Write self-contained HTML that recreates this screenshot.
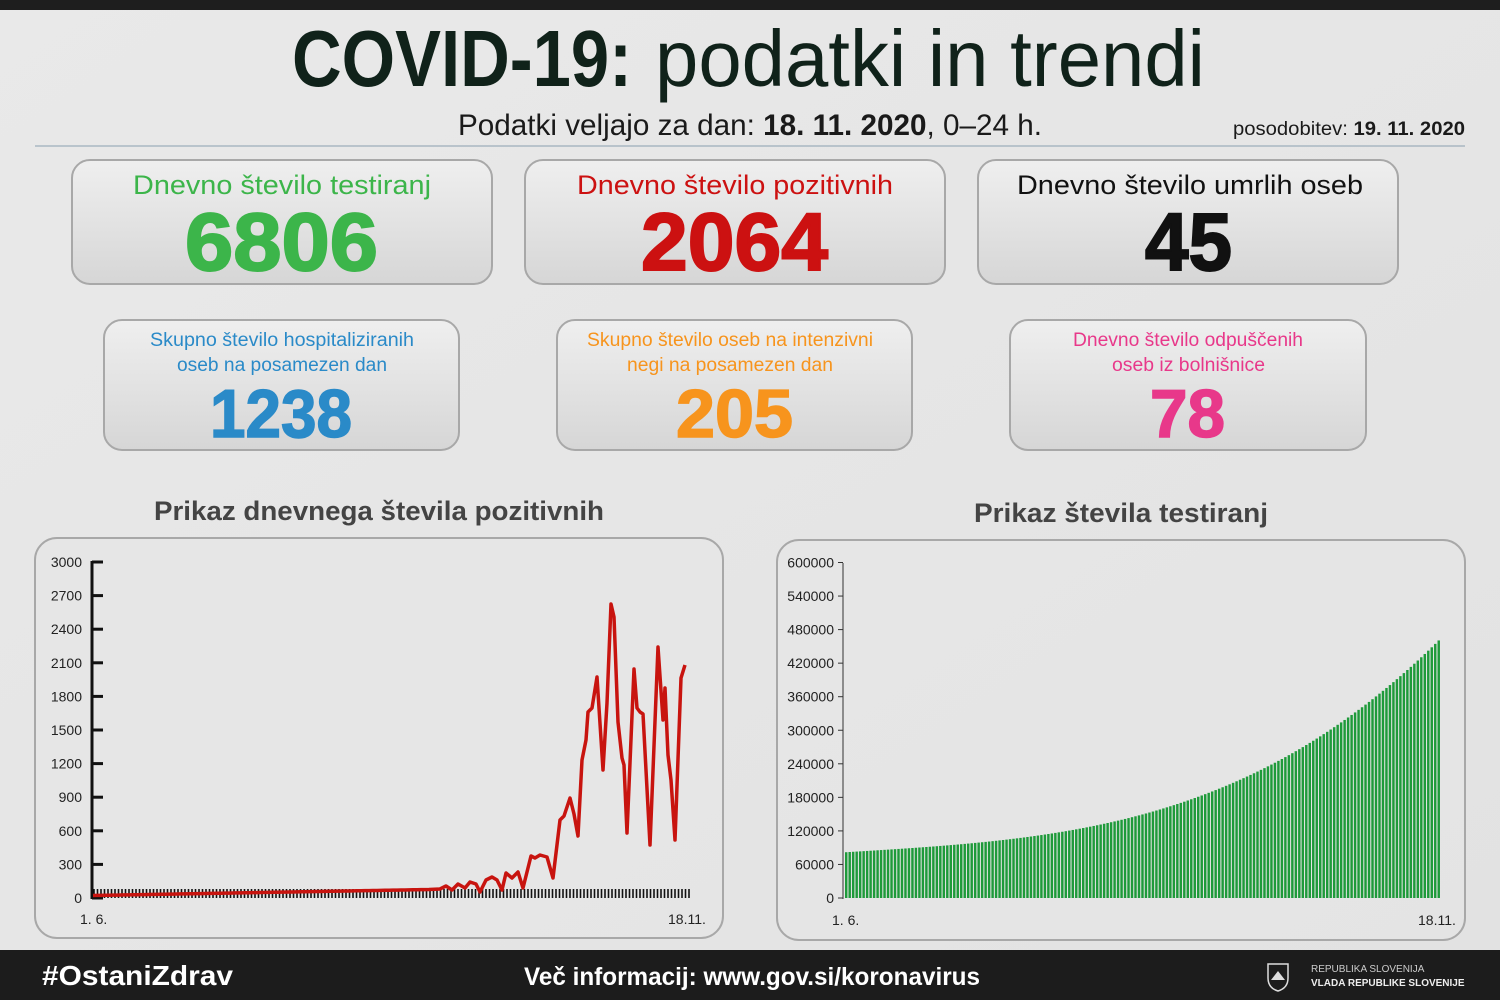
<!DOCTYPE html>
<html><head><meta charset="utf-8"><style>
html,body{margin:0;padding:0;background:#e4e4e4;}
svg{display:block;font-family:"Liberation Sans",sans-serif;}
</style></head><body>
<svg id="s" width="1500" height="1000" viewBox="0 0 1500 1000" xmlns="http://www.w3.org/2000/svg">
<defs>
<linearGradient id="cg" x1="0" y1="0" x2="0" y2="1"><stop offset="0" stop-color="#efefef"/><stop offset="1" stop-color="#d6d6d6"/></linearGradient>
<linearGradient id="bg" x1="0" y1="0" x2="1" y2="1"><stop offset="0" stop-color="#e9e9e9"/><stop offset="1" stop-color="#e2e2e2"/></linearGradient>
</defs>
<rect width="1500" height="1000" fill="url(#bg)"/>
<rect width="1500" height="10" fill="#1e1e1e"/>
<text x="292" y="86" font-size="80" font-weight="bold" fill="#10221a" textLength="340" lengthAdjust="spacingAndGlyphs">COVID-19:</text>
<text x="655" y="86" font-size="80" fill="#10221a" textLength="550" lengthAdjust="spacingAndGlyphs">podatki in trendi</text>
<text x="458" y="135" font-size="30" fill="#1a1a1a" textLength="584" lengthAdjust="spacingAndGlyphs">Podatki veljajo za dan: <tspan font-weight="bold">18. 11. 2020</tspan>, 0–24 h.</text>
<text x="1233" y="135" font-size="19" fill="#1a1a1a" textLength="232" lengthAdjust="spacingAndGlyphs">posodobitev: <tspan font-weight="bold">19. 11. 2020</tspan></text>
<line x1="35" y1="146" x2="1465" y2="146" stroke="#a9b7c2" stroke-width="1.5"/>

<g stroke="#a8a8a8" stroke-width="2" fill="url(#cg)">
<rect x="72" y="160" width="420" height="124" rx="18"/>
<rect x="525" y="160" width="420" height="124" rx="18"/>
<rect x="978" y="160" width="420" height="124" rx="18"/>
<rect x="104" y="320" width="355" height="130" rx="18"/>
<rect x="557" y="320" width="355" height="130" rx="18"/>
<rect x="1010" y="320" width="356" height="130" rx="18"/>
</g>
<g lengthAdjust="spacingAndGlyphs">
<text x="133" y="194" font-size="27" fill="#3cb54a" textLength="298" lengthAdjust="spacingAndGlyphs">Dnevno število testiranj</text>
<text x="185" y="270" font-size="82" font-weight="bold" fill="#3cb54a" textLength="193" lengthAdjust="spacingAndGlyphs" stroke="#3cb54a" stroke-width="2">6806</text>
<text x="577" y="194" font-size="27" fill="#cc1111" textLength="316" lengthAdjust="spacingAndGlyphs">Dnevno število pozitivnih</text>
<text x="641" y="270" font-size="82" font-weight="bold" fill="#cc1111" textLength="187" lengthAdjust="spacingAndGlyphs" stroke="#cc1111" stroke-width="2">2064</text>
<text x="1017" y="194" font-size="27" fill="#111" textLength="346" lengthAdjust="spacingAndGlyphs">Dnevno število umrlih oseb</text>
<text x="1145" y="270" font-size="82" font-weight="bold" fill="#111" textLength="87" lengthAdjust="spacingAndGlyphs" stroke="#111" stroke-width="2">45</text>
<text x="150" y="346" font-size="19" fill="#2a8ac8" textLength="264" lengthAdjust="spacingAndGlyphs">Skupno število hospitaliziranih</text>
<text x="177" y="371" font-size="19" fill="#2a8ac8" textLength="210" lengthAdjust="spacingAndGlyphs">oseb na posamezen dan</text>
<text x="210" y="437" font-size="68" font-weight="bold" fill="#2a8ac8" textLength="142" lengthAdjust="spacingAndGlyphs" stroke="#2a8ac8" stroke-width="1.5">1238</text>
<text x="587" y="346" font-size="19" fill="#f7941d" textLength="286" lengthAdjust="spacingAndGlyphs">Skupno število oseb na intenzivni</text>
<text x="627" y="371" font-size="19" fill="#f7941d" textLength="206" lengthAdjust="spacingAndGlyphs">negi na posamezen dan</text>
<text x="676" y="437" font-size="68" font-weight="bold" fill="#f7941d" textLength="117" lengthAdjust="spacingAndGlyphs" stroke="#f7941d" stroke-width="1.5">205</text>
<text x="1073" y="346" font-size="19" fill="#e8388a" textLength="230" lengthAdjust="spacingAndGlyphs">Dnevno število odpuščenih</text>
<text x="1112" y="371" font-size="19" fill="#e8388a" textLength="153" lengthAdjust="spacingAndGlyphs">oseb iz bolnišnice</text>
<text x="1150" y="437" font-size="68" font-weight="bold" fill="#e8388a" textLength="75" lengthAdjust="spacingAndGlyphs" stroke="#e8388a" stroke-width="1.5">78</text>
<text x="154" y="520" font-size="27" font-weight="bold" fill="#444" textLength="450" lengthAdjust="spacingAndGlyphs">Prikaz dnevnega števila pozitivnih</text>
<text x="974" y="522" font-size="27" font-weight="bold" fill="#444" textLength="294" lengthAdjust="spacingAndGlyphs">Prikaz števila testiranj</text>
</g>
<rect x="35" y="538" width="688" height="400" rx="22" fill="#e6e6e6" fill-opacity="0.6" stroke="#a8a8a8" stroke-width="2"/>
<rect x="777" y="540" width="688" height="400" rx="22" fill="#e6e6e6" fill-opacity="0.6" stroke="#a8a8a8" stroke-width="2"/>
<g id="L"></g><g id="R"></g>
<text x="80" y="924" font-size="14" fill="#222">1. 6.</text>
<text x="668" y="924" font-size="14" fill="#222">18.11.</text>
<text x="832" y="925" font-size="14" fill="#222">1. 6.</text>
<text x="1418" y="925" font-size="14" fill="#222">18.11.</text>

<rect x="0" y="950" width="1500" height="50" fill="#1c1c1c"/>
<text x="42" y="985" font-size="28" font-weight="bold" fill="#fff" textLength="191" lengthAdjust="spacingAndGlyphs">#OstaniZdrav</text>
<text x="524" y="985" font-size="25" font-weight="bold" fill="#fff" textLength="456" lengthAdjust="spacingAndGlyphs">Več informacij: www.gov.si/koronavirus</text>
<path d="M1268 964 h20 v14 q0 10 -10 13 q-10 -3 -10 -13 z" fill="none" stroke="#ddd" stroke-width="1.5"/>
<path d="M1271 980 l7 -9 l7 9 z" fill="#ddd"/>
<text x="1311" y="972" font-size="10" fill="#ccc">REPUBLIKA SLOVENIJA</text>
<text x="1311" y="986" font-size="10" font-weight="bold" fill="#eee">VLADA REPUBLIKE SLOVENIJE</text>
</svg>
<script>
var NS="http://www.w3.org/2000/svg";
function el(p,t,a,txt){var e=document.createElementNS(NS,t);for(var k in a)e.setAttribute(k,a[k]);if(txt!==undefined)e.textContent=txt;p.appendChild(e);return e;}
var L=document.getElementById("L"),R=document.getElementById("R");
el(L,"line",{x1:92,y1:561,x2:92,y2:899,stroke:"#111","stroke-width":3});
for(var i=0;i<=10;i++){var y=898-i*33.6;
 el(L,"line",{x1:92,y1:y,x2:103,y2:y,stroke:"#111","stroke-width":3});
 el(L,"text",{x:82,y:y+5,"font-size":14,"text-anchor":"end",fill:"#222"},String(i*300));}
for(var x=94;x<=689;x+=3.5){el(L,"line",{x1:x,y1:889,x2:x,y2:898,stroke:"#111","stroke-width":1.6});}
var pts=[];
for(var x=93;x<=430;x+=4){pts.push([x,897-((x-93)/337)*6-((x/4)%2?1.5:0)]);}
var k=[[440,889],[446,886],[452,890],[458,884],[465,888],[470,882],[476,884],[480,892],[486,880],[492,877],[497,880],[502,890],[506,873],[512,878],[518,872],[523,888],[531,856],[535,858],[540,855],[547,857],[553,878],[560,820],[564,816],[570,798],[574,814],[578,836],[582,760],[586,740],[588,712],[592,708],[597,677],[603,770],[607,703],[611,604],[614,617],[618,722],[622,758],[624,765],[627,833],[634,669],[637,708],[640,712],[643,714],[650,845],[658,647],[663,720],[665,688],[668,755],[671,780],[675,840],[681,678],[685,665]];
pts=pts.concat(k);
el(L,"polyline",{points:pts.map(function(p){return p.join(",")}).join(" "),fill:"none",stroke:"#c8140f","stroke-width":3.5,"stroke-linejoin":"round"});
el(R,"line",{x1:843,y1:563,x2:843,y2:899,stroke:"#333","stroke-width":1});
for(var i=0;i<=10;i++){var y=898-i*33.55;
 el(R,"line",{x1:838,y1:y,x2:843,y2:y,stroke:"#333","stroke-width":1});
 el(R,"text",{x:834,y:y+5,"font-size":14,"text-anchor":"end",fill:"#222"},String(i*60000));}
var n=171,x0=845,w=(1441-845)/n;
for(var i=0;i<n;i++){var t=i/(n-1);
 var v=82000+80000*t+300000*Math.pow(t,3.2)-5000*Math.sin(t*3);
 var h=v/600000*335;
 el(R,"rect",{x:x0+i*w,y:898-h,width:w*0.7,height:h,fill:"#1e9a3a"});}
</script>
</body></html>
